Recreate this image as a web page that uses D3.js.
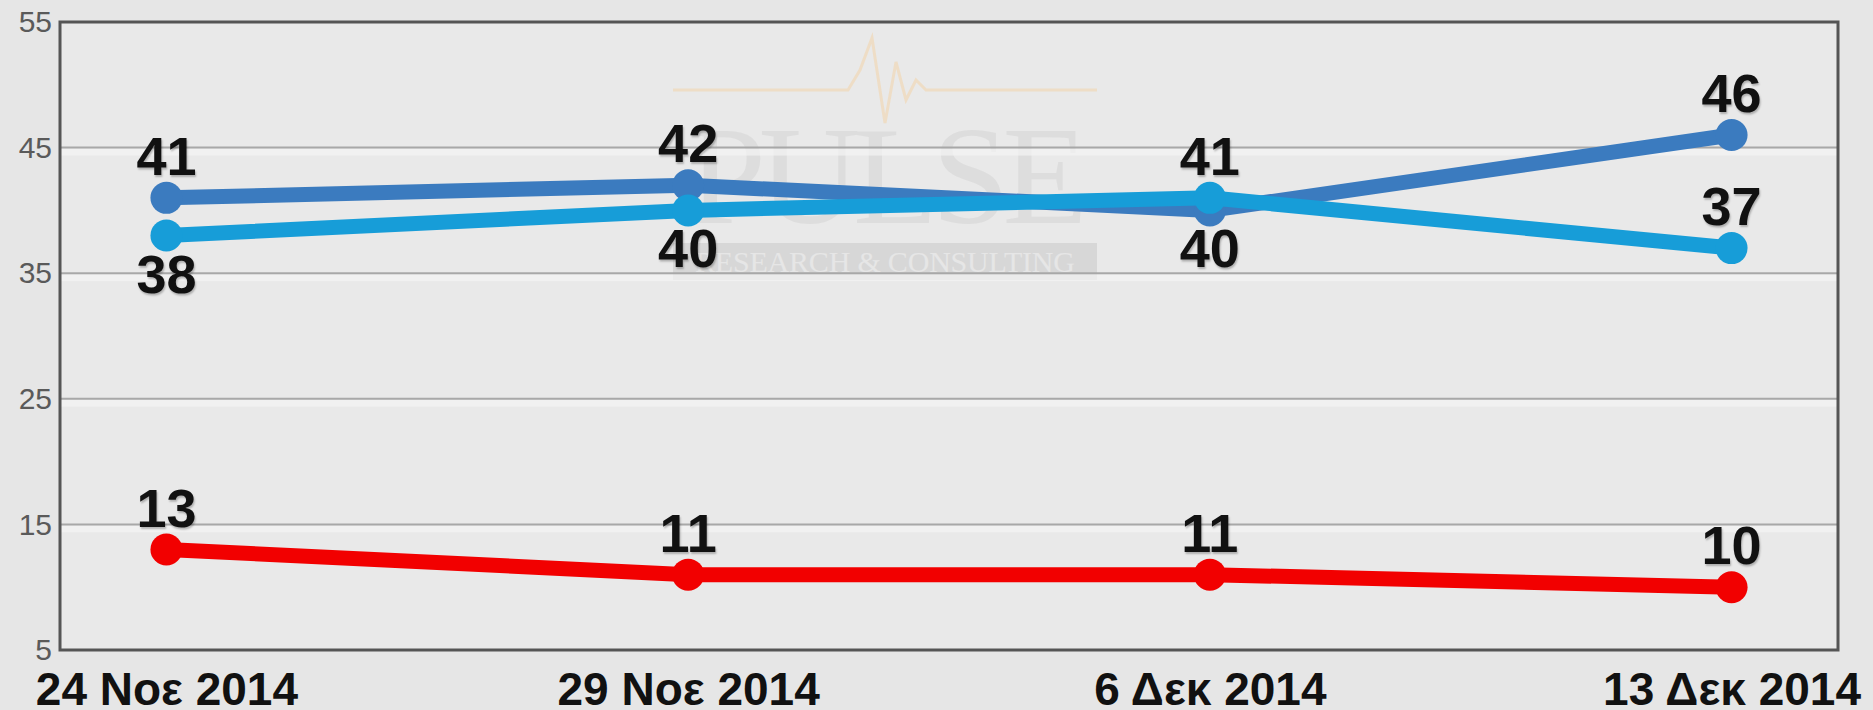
<!DOCTYPE html>
<html>
<head>
<meta charset="utf-8">
<script src="https://cdn.jsdelivr.net/npm/d3@7"></script>
<style>
  html, body { margin: 0; padding: 0; background: #e6e6e6; }
  svg { display: block; }
  .axis text { font-family: "Liberation Sans", Arial, sans-serif; }
  .val { font-family: "Liberation Sans", Arial, sans-serif; font-weight: bold; text-shadow: 1px 2px 2px rgba(0,0,0,0.25); }
</style>
</head>
<body>
<div id="chart"></div>
<script>
// Data
const dates = ['24 Νοε 2014', '29 Νοε 2014', '6 Δεκ 2014', '13 Δεκ 2014'];
const seriesDark = [41, 42, 40, 46];
const seriesLight = [38, 40, 41, 37];
const seriesRed = [13, 11, 11, 10];
const yTicks = [5, 15, 25, 35, 45, 55];
const gridTicks = [15, 25, 35, 45];

const series = [
  { values: seriesDark, color: '#3b7bbf' },
  { values: seriesLight, color: '#179dd8' },
  { values: seriesRed, color: '#f20000' }
];

// Dimensions
const W = 1873, H = 710;
const plot = { left: 60, top: 22, right: 1838, bottom: 650 };

const svg = d3.select('#chart')
  .append('svg')
  .attr('width', W)
  .attr('height', H);

svg.append('rect')
  .attr('width', W).attr('height', H)
  .attr('fill', '#e6e6e6');

// Scales
const x = d3.scalePoint()
  .domain(dates)
  .range([plot.left, plot.right])
  .padding(0.204);

const y = d3.scaleLinear()
  .domain([5, 55])
  .range([plot.bottom, plot.top]);

// Plot background
svg.append('rect')
  .attr('x', plot.left).attr('y', plot.top)
  .attr('width', plot.right - plot.left)
  .attr('height', plot.bottom - plot.top)
  .attr('fill', '#e9e9e9');

// Watermark
const wm = svg.append('g').attr('opacity', 0.85);
wm.append('path')
  .attr('d', 'M673,90 L848,90 L860,70 L872,38 L885,123 L896,62 L906,100 L916,80 L926,90 L1097,90')
  .attr('fill', 'none')
  .attr('stroke', '#f0dcc0')
  .attr('stroke-width', 3);
wm.append('text')
  .attr('x', 688).attr('y', 223)
  .attr('textLength', 400)
  .attr('font-family', '"Liberation Serif", "Times New Roman", serif')
  .attr('font-size', 140)
  .attr('fill', '#dcdcdc')
  .text('PULSE');
wm.append('rect')
  .attr('x', 673).attr('y', 243)
  .attr('width', 424).attr('height', 37)
  .attr('fill', '#d5d5d5');
wm.append('text')
  .attr('x', 885).attr('y', 272)
  .attr('text-anchor', 'middle')
  .attr('textLength', 380)
  .attr('font-family', '"Liberation Serif", "Times New Roman", serif')
  .attr('font-size', 30)
  .attr('fill', '#e6e6e6')
  .text('RESEARCH & CONSULTING');

// Gridlines
const grid = svg.append('g');
grid.selectAll('.shade')
  .data(gridTicks)
  .enter()
  .append('rect')
  .attr('x', plot.left)
  .attr('y', d => y(d) + 1)
  .attr('width', plot.right - plot.left)
  .attr('height', 7)
  .attr('fill', '#f3f3f3')
  .attr('opacity', 0.7);
grid.selectAll('.line')
  .data(gridTicks)
  .enter()
  .append('line')
  .attr('x1', plot.left).attr('x2', plot.right)
  .attr('y1', d => y(d)).attr('y2', d => y(d))
  .attr('stroke', '#a8a8a8')
  .attr('stroke-width', 2);

// Frame
svg.append('rect')
  .attr('x', plot.left).attr('y', plot.top)
  .attr('width', plot.right - plot.left)
  .attr('height', plot.bottom - plot.top)
  .attr('fill', 'none')
  .attr('stroke', '#555')
  .attr('stroke-width', 3);

// Axes
const yAxis = d3.axisLeft(y).tickValues(yTicks).tickSize(0).tickPadding(8);
const gy = svg.append('g')
  .attr('class', 'axis')
  .attr('transform', 'translate(' + plot.left + ',0)')
  .call(yAxis);
gy.select('.domain').remove();
gy.selectAll('text')
  .attr('font-size', 30)
  .attr('fill', '#5a5a5a');

const xAxis = d3.axisBottom(x).tickSize(0).tickPadding(22);
const gx = svg.append('g')
  .attr('class', 'axis')
  .attr('transform', 'translate(0,' + plot.bottom + ')')
  .call(xAxis);
gx.select('.domain').remove();
gx.selectAll('text')
  .attr('font-size', 46)
  .attr('font-weight', 'bold')
  .attr('fill', '#111');

// Lines and points
const line = d3.line()
  .x((d, i) => x(dates[i]))
  .y(d => y(d));

series.forEach(function (s) {
  svg.append('path')
    .datum(s.values)
    .attr('d', line)
    .attr('fill', 'none')
    .attr('stroke', s.color)
    .attr('stroke-width', 15)
    .attr('stroke-linejoin', 'round')
    .attr('stroke-linecap', 'round');

  svg.selectAll(null)
    .data(s.values)
    .enter()
    .append('circle')
    .attr('cx', (d, i) => x(dates[i]))
    .attr('cy', d => y(d))
    .attr('r', 16)
    .attr('fill', s.color);
});

// Value labels: put the label below when another series sits just above it
function labelBelow(v, i, own) {
  return series.some(o => o !== own && o.values[i] > v && o.values[i] - v < 6);
}

series.forEach(function (s) {
  svg.selectAll(null)
    .data(s.values)
    .enter()
    .append('text')
    .attr('class', 'val')
    .attr('x', (d, i) => x(dates[i]))
    .attr('y', (d, i) => labelBelow(d, i, s) ? y(d) + 57 : y(d) - 23)
    .attr('text-anchor', 'middle')
    .attr('font-size', 54)
    .attr('fill', '#111')
    .text(d => d);
});
</script>
</body>
</html>
